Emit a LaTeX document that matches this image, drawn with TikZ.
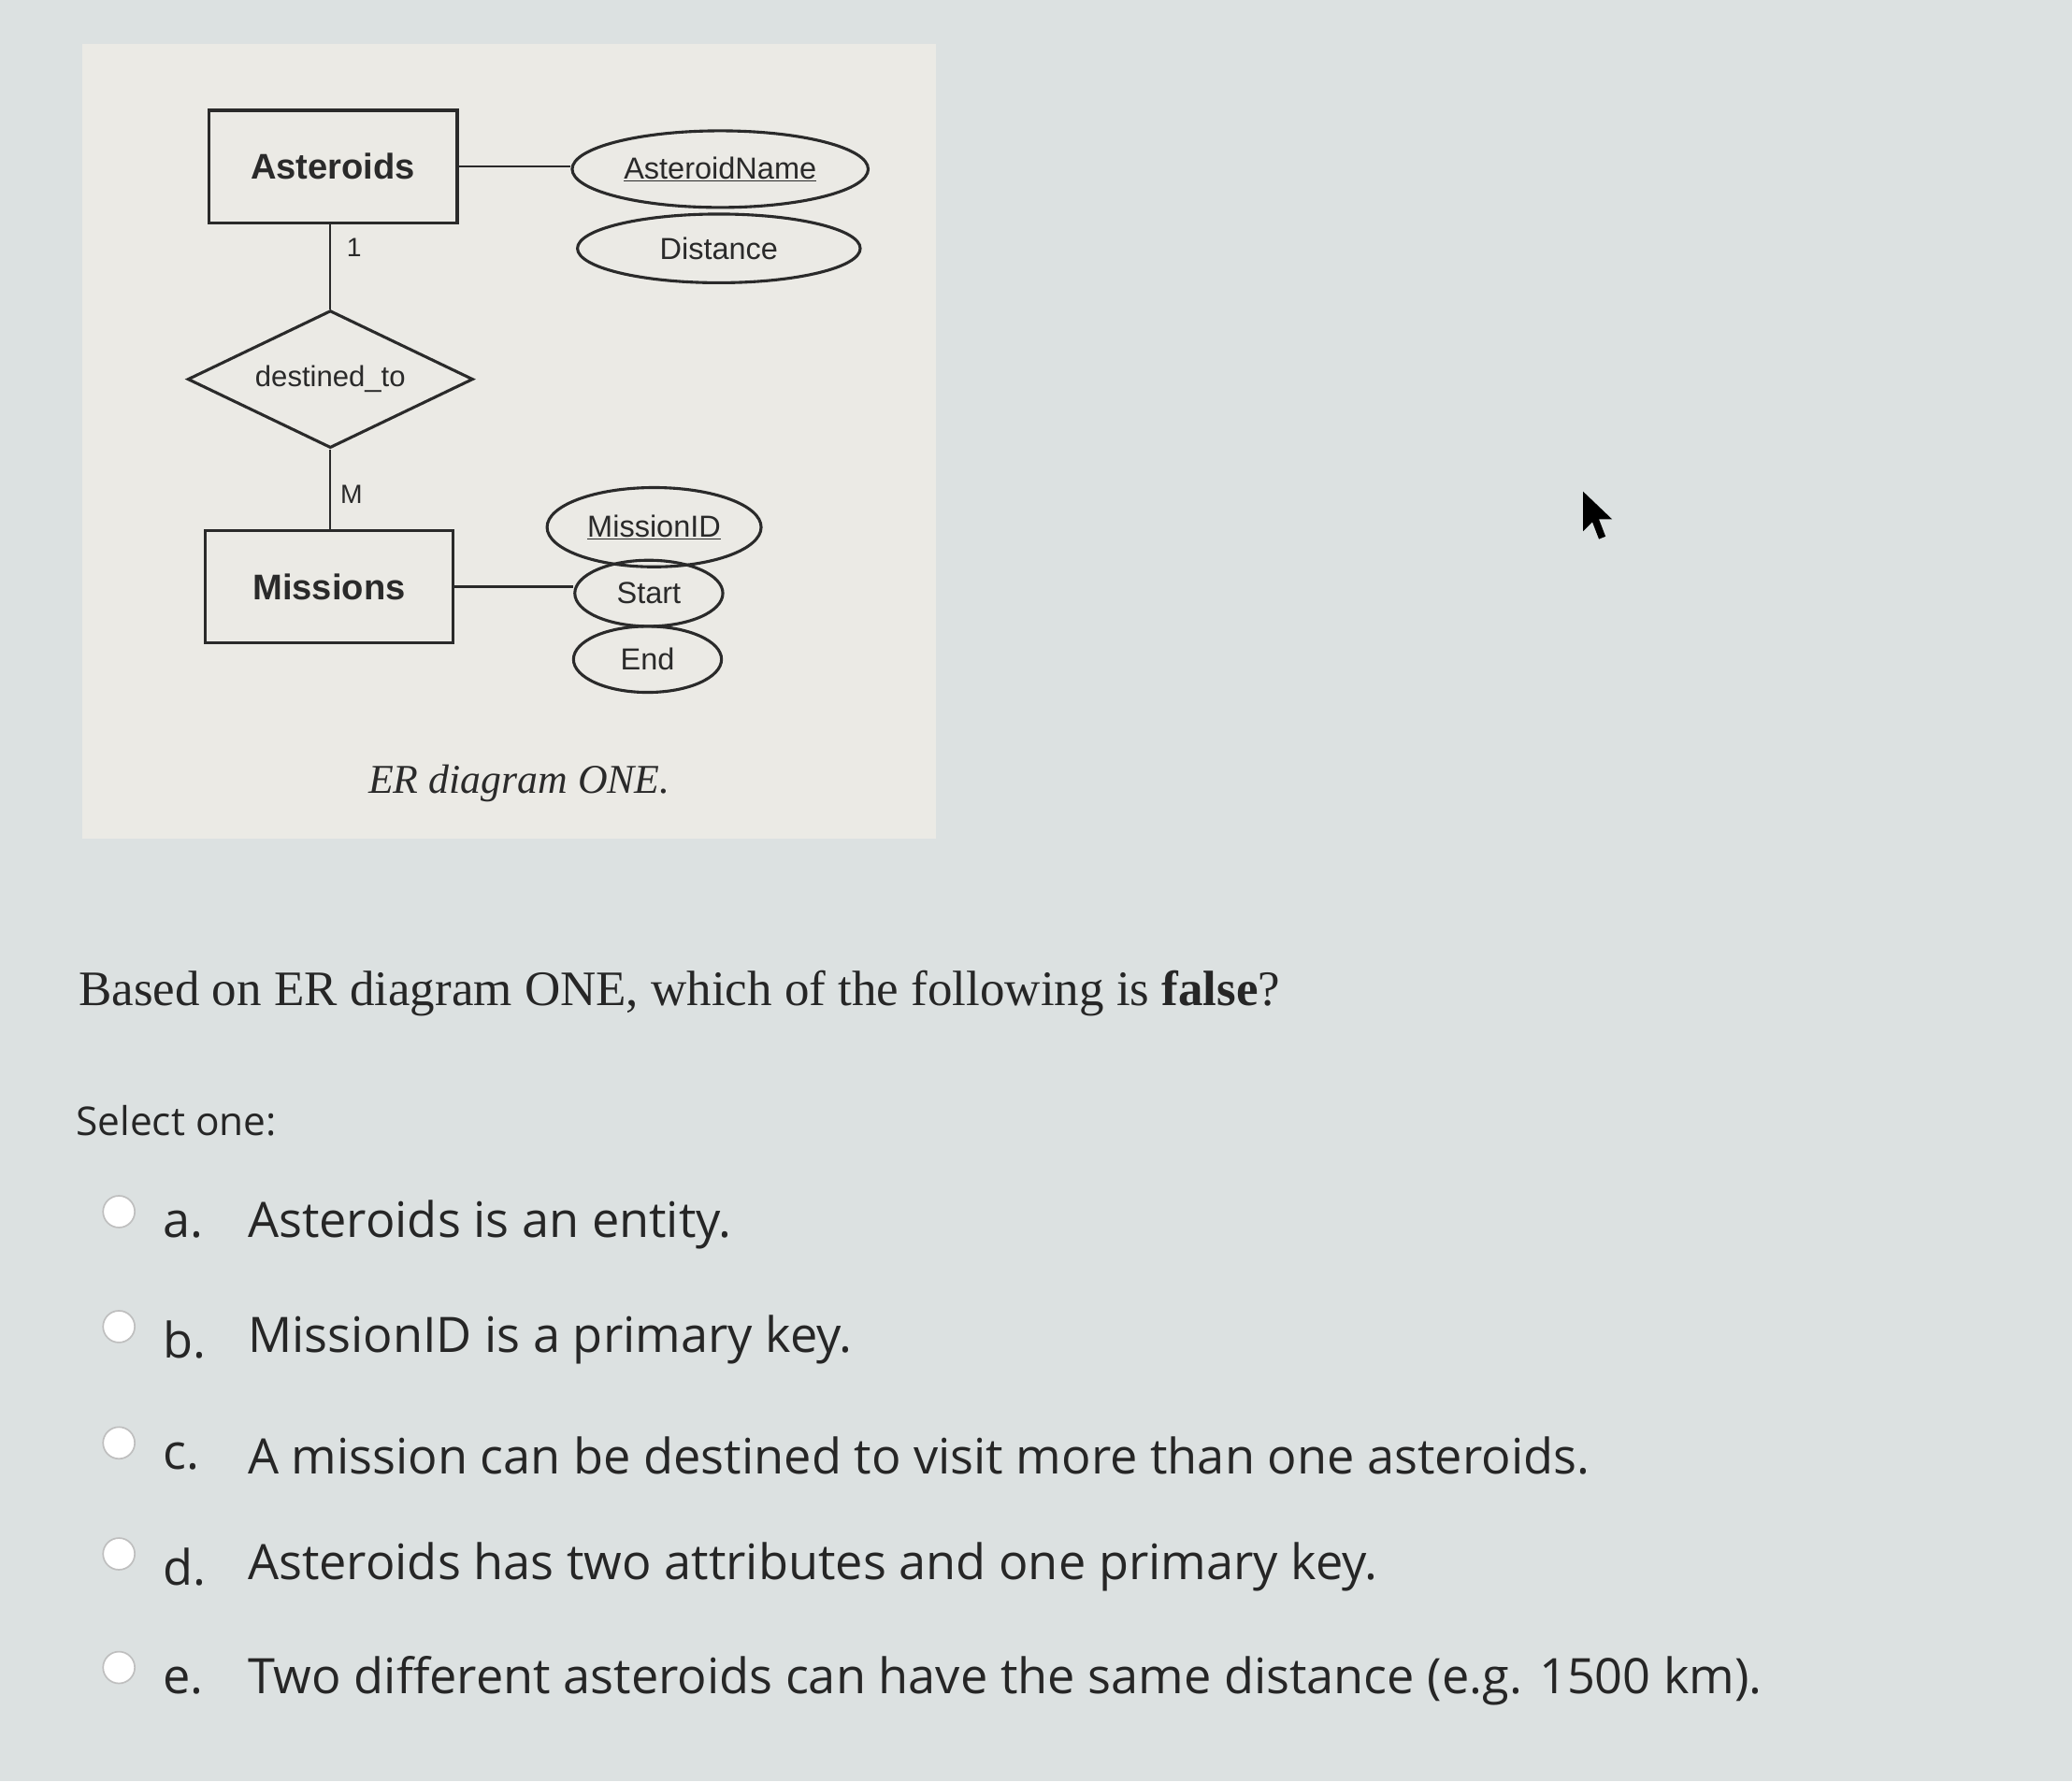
\documentclass[tikz,border=0pt]{standalone}
\usepackage{fontspec}
\setmainfont{Liberation Serif}
\newfontfamily\arial{Liberation Sans}
\newfontfamily\opts{Open Sans}
\usetikzlibrary{shapes.geometric}
\definecolor{bg}{HTML}{DCE1E1}
\definecolor{panel}{HTML}{EBEAE5}
\definecolor{ink}{HTML}{2A2A2A}
\tikzset{
 ent/.style={draw=ink,line width=2.2pt,minimum width=188pt,minimum height=85pt,font=\arial\bfseries\fontsize{27}{30}\selectfont,text=ink},
 attr/.style={draw=ink,ellipse,line width=2.2pt,inner sep=0pt,font=\arial\fontsize{23}{26}\selectfont,text=ink},
 rel/.style={draw=ink,diamond,aspect=2.1,line width=2.2pt,inner sep=0pt,minimum width=216pt,minimum height=104pt,font=\arial\fontsize{22}{25}\selectfont,text=ink},
 conn/.style={draw=ink,line width=1.6pt},
 card/.style={font=\arial\fontsize{20}{24}\selectfont,text=ink},
 radio/.style={circle,draw=gray!50,fill=white,line width=1.2pt,minimum size=24pt,inner sep=0pt},
 opt/.style={anchor=west,font=\opts\fontsize{37}{42}\selectfont,text=black!85}
}
\begin{document}
\begin{tikzpicture}[x=1pt,y=-1pt]
\fill[bg] (0,0) rectangle (1568,1348);
\fill[panel] (62,33) rectangle (708,635);
\node[ent] (ast) at (252,126) {Asteroids};
\node[ent] (mis) at (249,444) {Missions};
\node[rel] (dest) at (250,287) {destined\_to};
\node[attr,minimum width=224pt,minimum height=58pt] (an) at (545,128) {\underline{AsteroidName}};
\node[attr,minimum width=214pt,minimum height=52pt] (dist) at (544,188) {Distance};
\node[attr,minimum width=162pt,minimum height=60pt] (mid) at (495,399) {\underline{MissionID}};
\node[attr,minimum width=112pt,minimum height=50pt] (st) at (491,449) {Start};
\node[attr,minimum width=112pt,minimum height=50pt] (en) at (490,499) {End};
\draw[conn] (ast.east) -- (ast.east -| an.west);
\draw[conn] (mis.east) -- (mis.east -| st.west);
\draw[conn] (ast.south -| dest.north) -- (dest.north);
\draw[conn] (dest.south) -- (mis.north -| dest.south);
\node[card] (c1) at (268,187) {1};
\node[card] (cm) at (266,374) {M};
\node[font=\itshape\fontsize{31}{34}\selectfont,text=ink] (cap) at (393,593) {ER diagram ONE.};
\node[anchor=west,font=\fontsize{37.5}{42}\selectfont,text=black!85] (q) at (56,752) {Based on ER diagram ONE, which of the following is \textbf{false}?};
\node[anchor=west,font=\opts\fontsize{30}{34}\selectfont,text=black!85] (sel) at (54,848) {Select one:};
\foreach \y/\l/\t [count=\i] in {927/a./Asteroids is an entity.,1014/b./MissionID is a primary key.,1102/c./A mission can be destined to visit more than one asteroids.,1186/d./Asteroids has two attributes and one primary key.,1272/e./Two different asteroids can have the same distance (e.g. 1500 km).}{
  \node[radio] (r\i) at (90,\y-10) {};
  \node[opt] (l\i) at (120,\y) {\l};
  \node[opt] (t\i) at (184,\y) {\t};
}
\fill[black] (1198,372) -- (1198,402) -- (1205,395) -- (1210,408) -- (1215,406) -- (1210,393) -- (1220,393) -- cycle;
\end{tikzpicture}
\end{document}
